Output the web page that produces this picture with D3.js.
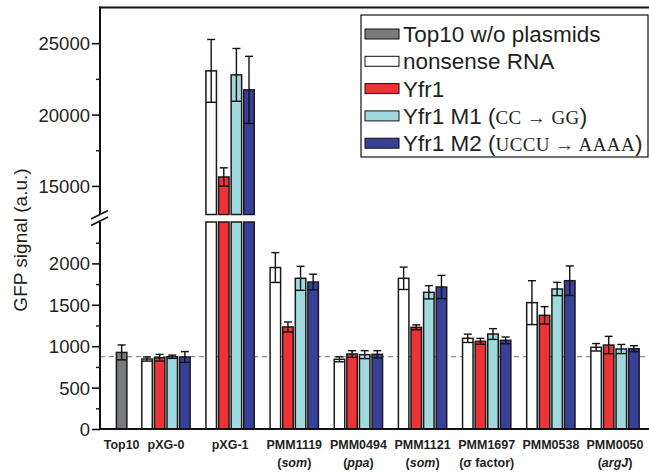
<!DOCTYPE html>
<html><head><meta charset="utf-8">
<script src="https://cdn.jsdelivr.net/npm/d3@7"></script>
<style>
html,body{margin:0;padding:0;background:#fff;}
svg{display:block;font-family:"Liberation Sans",Arial,sans-serif;}
</style></head>
<body>
<svg id="chart" width="649" height="474"></svg>
<script>
// ---- data ----
const categories = ["pXG-0","pXG-1","PMM1119","PMM0494","PMM1121","PMM1697","PMM0538","PMM0050"];
const subLabels  = ["","","som","ppa","som","σ factor","","argJ"];
const subItalic  = [false,false,true,true,true,false,false,true];
const seriesNames = ["nonsense RNA","Yfr1","Yfr1 M1","Yfr1 M2"];
const nonsense    = [845, 23060, 1950, 842, 1820, 1095, 1526, 987];
const nonsenseErr = [25, 2200, 180, 30, 135, 50, 265, 45];
const yfr1        = [861, 15630, 1232, 906, 1228, 1059, 1373, 1014];
const yfr1Err     = [40, 640, 60, 40, 30, 35, 105, 105];
const m1          = [873, 22780, 1820, 898, 1651, 1147, 1691, 966];
const m1Err       = [20, 1850, 145, 48, 80, 65, 80, 55];
const m2          = [870, 21730, 1775, 902, 1715, 1071, 1791, 970];
const m2Err       = [65, 2350, 95, 44, 140, 40, 178, 36];
const controlLabel = "Top10";
const controlValue = [925];
const controlErr   = [90];
const baselineValue = 873;
const lowerTicks = [0, 500, 1000, 1500, 2000];
const lowerMinor = [250, 750, 1250, 1750, 2250];
const upperTicks = [15000, 20000, 25000];
const upperMinor = [17500, 22500];
const legendNames = ["Top10 w/o plasmids","nonsense RNA","Yfr1","Yfr1 M1","Yfr1 M2"];
const legendMut = ["","","","CC → GG","UCCU → AAAA"];
const colors = ["#797a7e","#ffffff","#ed3338","#a0dae0","#3a4098"];

const seriesValues = [nonsense, yfr1, m1, m2];
const seriesErrs = [nonsenseErr, yfr1Err, m1Err, m2Err];

// ---- layout ----
const svg = d3.select("#chart");
const axisX = 100, plotRight = 649, topY = 7.5, bottomY = 429;
const lowerTopY = 222, upperBottomY = 214.5;

const yLow = d3.scaleLinear().domain([0, 2500]).range([bottomY, lowerTopY]);
const yUp  = d3.scaleLinear().domain([13000, 27500]).range([upperBottomY, topY]);
const lowMax = 2500;

const x0 = d3.scaleBand().domain(categories).range([133.9, 647.1]).padding(0);
const x1 = d3.scaleBand().domain(seriesNames).range([7.9, 56.2]).paddingInner(0.167).paddingOuter(0);
const xc = d3.scaleBand().domain([controlLabel]).range([axisX, 133.9]).paddingInner(0).paddingOuter((33.9 - 10.5) / 10.5 / 2).align(0.7);

const bw = x1.bandwidth();
const barStroke = "#1a1a1a";

const bars = [];
categories.forEach((c, i) => {
  seriesNames.forEach((s, j) => {
    bars.push({x: x0(c) + x1(s), v: seriesValues[j][i], e: seriesErrs[j][i], color: colors[j + 1]});
  });
});
controlValue.forEach((v, i) => {
  bars.push({x: xc(controlLabel) + (xc.bandwidth() - bw) / 2, v: v, e: controlErr[i], color: colors[0]});
});

const g = svg.append("g");

// dashed baseline
g.append("line")
  .attr("x1", axisX).attr("x2", plotRight)
  .attr("y1", yLow(baselineValue)).attr("y2", yLow(baselineValue))
  .attr("stroke", "#8a8a8a").attr("stroke-width", 1.3).attr("stroke-dasharray", "5,4");

// bars
bars.forEach(b => {
  const lowTop = b.v > lowMax ? lowerTopY : yLow(b.v);
  g.append("rect").attr("x", b.x).attr("y", lowTop).attr("width", bw).attr("height", bottomY - lowTop)
    .attr("fill", b.color).attr("stroke", barStroke).attr("stroke-width", 1.5);
  if (b.v > lowMax) {
    g.append("rect").attr("x", b.x).attr("y", yUp(b.v)).attr("width", bw).attr("height", upperBottomY - yUp(b.v))
      .attr("fill", b.color).attr("stroke", barStroke).attr("stroke-width", 1.5);
  }
  const sc = b.v > lowMax ? yUp : yLow;
  const cx = b.x + bw / 2;
  const yt = sc(b.v + b.e), yb = sc(b.v - b.e);
  const eg = g.append("g").attr("stroke", "#111").attr("stroke-width", 1.4);
  eg.append("line").attr("x1", cx).attr("x2", cx).attr("y1", yt).attr("y2", yb);
  eg.append("line").attr("x1", cx - 4).attr("x2", cx + 4).attr("y1", yt).attr("y2", yt);
  eg.append("line").attr("x1", b.x).attr("x2", b.x + bw).attr("y1", yb).attr("y2", yb);
});

// frame: top line and x axis line
g.append("line").attr("x1", axisX - 1).attr("x2", plotRight).attr("y1", topY).attr("y2", topY)
  .attr("stroke", "#111").attr("stroke-width", 2);
g.append("line").attr("x1", axisX - 1).attr("x2", plotRight).attr("y1", bottomY).attr("y2", bottomY)
  .attr("stroke", "#111").attr("stroke-width", 2);

// y axes
const tickFont = 18.5;
const axLow = d3.axisLeft(yLow).tickValues(lowerTicks).tickSize(8).tickSizeOuter(0).tickFormat(d3.format("d"));
const axUp = d3.axisLeft(yUp).tickValues(upperTicks).tickSize(8).tickSizeOuter(0).tickFormat(d3.format("d"));
const gLow = svg.append("g").attr("transform", `translate(${axisX},0)`).call(axLow);
const gUp = svg.append("g").attr("transform", `translate(${axisX},0)`).call(axUp);
[gLow, gUp].forEach(a => {
  a.select(".domain").remove();
  a.selectAll("line").attr("stroke", "#111").attr("stroke-width", 1.6);
  a.selectAll("text").attr("font-size", tickFont).attr("fill", "#231f20").attr("x", -10).attr("dy", "0.35em")
    .attr("font-family", "'Liberation Sans', Arial, sans-serif");
});
const minorLow = d3.axisLeft(yLow).tickValues(lowerMinor).tickSize(4).tickFormat("");
const minorUp = d3.axisLeft(yUp).tickValues(upperMinor).tickSize(4).tickFormat("");
[minorLow, minorUp].forEach(ax => {
  const m = svg.append("g").attr("transform", `translate(${axisX},0)`).call(ax);
  m.select(".domain").remove();
  m.selectAll("line").attr("stroke", "#111").attr("stroke-width", 1.4);
});
// axis spine segments with break
svg.append("line").attr("x1", axisX).attr("x2", axisX).attr("y1", topY - 1).attr("y2", 214)
  .attr("stroke", "#111").attr("stroke-width", 2);
svg.append("line").attr("x1", axisX).attr("x2", axisX).attr("y1", 222).attr("y2", bottomY + 1)
  .attr("stroke", "#111").attr("stroke-width", 2);
svg.append("line").attr("x1", 91).attr("x2", 108).attr("y1", 219).attr("y2", 210.5)
  .attr("stroke", "#111").attr("stroke-width", 1.8);
svg.append("line").attr("x1", 91).attr("x2", 108).attr("y1", 225.5).attr("y2", 217)
  .attr("stroke", "#111").attr("stroke-width", 1.8);

// y label
svg.append("text").attr("transform", "translate(27,240) rotate(-90)")
  .attr("text-anchor", "middle").attr("font-size", 19).attr("fill", "#231f20")
  .text("GFP signal (a.u.)");

// x labels
const xl = svg.append("g").attr("font-weight", "bold").attr("font-size", 12.5).attr("fill", "#231f20").attr("text-anchor", "middle");
xl.append("text").attr("x", xc(controlLabel) + xc.bandwidth() / 2).attr("y", 449).text(controlLabel);
categories.forEach((c, i) => {
  const cx = x0(c) + x0.bandwidth() / 2;
  xl.append("text").attr("x", cx).attr("y", 449).text(c);
  if (subLabels[i]) {
    const t = xl.append("text").attr("x", cx).attr("y", 467);
    t.append("tspan").text("(");
    t.append("tspan").attr("font-style", subItalic[i] ? "italic" : "normal").text(subLabels[i]);
    t.append("tspan").text(")");
  }
});

// legend
const lg = svg.append("g");
const lx = 361, ly = 15, lw = 287, lh = 142;
lg.append("rect").attr("x", lx).attr("y", ly).attr("width", lw).attr("height", lh)
  .attr("fill", "#fff").attr("stroke", "#111").attr("stroke-width", 1.2);
legendNames.forEach((n, i) => {
  const cy = 34 + i * 27.3;
  lg.append("rect").attr("x", lx + 4).attr("y", cy - 5).attr("width", 34).attr("height", 10)
    .attr("fill", colors[i]).attr("stroke", "#111").attr("stroke-width", 1);
  const t = lg.append("text").attr("x", lx + 42).attr("y", cy + 8).attr("font-size", 22.5).attr("fill", "#231f20");
  t.append("tspan").text(n);
  if (legendMut[i]) {
    t.append("tspan").text(" (");
    t.append("tspan").attr("font-family", "'Liberation Serif', serif").attr("font-size", 19)
      .attr("letter-spacing", 0.4).text(legendMut[i]);
    t.append("tspan").text(")");
  }
});
</script>
</body></html>
